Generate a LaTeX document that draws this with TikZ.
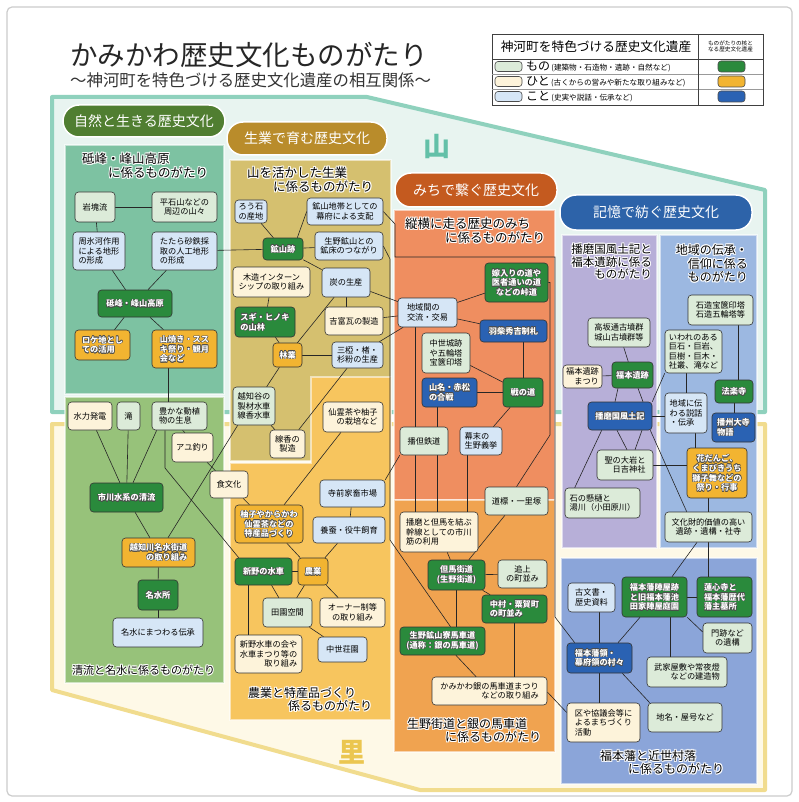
\documentclass[tikz,border=0pt]{standalone}
\usepackage{fontspec}
\setmainfont{Noto Sans CJK JP}
\usetikzlibrary{calc}
\pgfdeclarelayer{bglayer}
\pgfdeclarelayer{edgelayer}
\pgfsetlayers{bglayer,edgelayer,main}

\definecolor{cMono}{HTML}{DCEBD9}
\definecolor{cHito}{HTML}{FDF3DA}
\definecolor{cKoto}{HTML}{D6E6F6}
\definecolor{cKG}{HTML}{2A8A3C}
\definecolor{cKO}{HTML}{F2B431}
\definecolor{cKB}{HTML}{2A62B3}
\definecolor{cYamaF}{HTML}{E8F4F0}
\definecolor{cYamaB}{HTML}{8FD1BD}
\definecolor{cSatoF}{HTML}{FEF9E7}
\definecolor{cSatoB}{HTML}{F1DC8E}
\definecolor{cTomine}{HTML}{7DC2A2}
\definecolor{cSeiryu}{HTML}{97C27A}
\definecolor{cSeigyo}{HTML}{D5C06F}
\definecolor{cNogyo}{HTML}{F7C55E}
\definecolor{cJuo}{HTML}{EF8E60}
\definecolor{cKaido}{HTML}{F0A350}
\definecolor{cHarima}{HTML}{B7AFD8}
\definecolor{cDensho}{HTML}{9CB8E1}
\definecolor{cFuku}{HTML}{8BA5D9}
\definecolor{cPa}{HTML}{507E31}
\definecolor{cPb}{HTML}{B98C2B}
\definecolor{cPc}{HTML}{C45A1F}
\definecolor{cPd}{HTML}{2D63A9}
\definecolor{cYamaT}{HTML}{63C0A8}
\definecolor{cSatoT}{HTML}{EBC650}

\newcommand\outl[3]{\leavevmode\rlap{\color{#1}%
 \rlap{\hspace*{#2}#3}\rlap{\hspace*{-#2}#3}\rlap{\raisebox{#2}{#3}}\rlap{\raisebox{-#2}{#3}}%
 \rlap{\hspace*{#2}\raisebox{#2}{#3}}\rlap{\hspace*{-#2}\raisebox{#2}{#3}}%
 \rlap{\hspace*{#2}\raisebox{-#2}{#3}}\rlap{\hspace*{-#2}\raisebox{-#2}{#3}}}#3}
\newcommand\hTxt[1]{\outl{white}{0.9pt}{#1}}
\newcommand\cT[1]{\outl{black!70}{0.45pt}{#1}}

\tikzset{
 nd/.style={draw=black!80, line width=0.6pt, rounded corners=3.5pt, align=center, inner sep=1pt, font=\fontsize{8.2}{9.6}\selectfont},
 sz/.style 2 args={minimum width=#1pt, minimum height=#2pt},
 mono/.style={nd, fill=cMono},
 hito/.style={nd, fill=cHito},
 koto/.style={nd, fill=cKoto},
 kg/.style={nd, fill=cKG, text=white, font=\bfseries\fontsize{8.2}{9.6}\selectfont},
 ko/.style={nd, fill=cKO, text=white, font=\bfseries\fontsize{8.2}{9.6}\selectfont},
 kb/.style={nd, fill=cKB, text=white, font=\bfseries\fontsize{8.2}{9.6}\selectfont},
 ln/.style={draw=black!85, line width=0.6pt},
 sub/.style={draw=white, draw opacity=0.55, line width=1.2pt},
 pill/.style={rounded corners=16pt, draw=white, line width=1.5pt, text=white, font=\fontsize{14}{14}\selectfont},
 rtitle/.style={align=left, inner sep=0pt, font=\fontsize{12.5}{13.5}\selectfont},
 sw/.style={draw=black!70, line width=0.6pt, rounded corners=3pt, minimum width=27pt, minimum height=10pt, inner sep=0pt},
}

\begin{document}
\begin{tikzpicture}[x=1pt,y=-1pt]
\useasboundingbox (0,0) rectangle (799,802);
\begin{pgfonlayer}{bglayer}
 \fill[white] (0,0) rectangle (799,802);
 \draw[black!20, line width=1.2pt, rounded corners=5pt] (7,7) rectangle (792,796);
 \filldraw[fill=cYamaF, draw=cYamaB, line width=4pt, line join=round] (52,97) -- (367,97) -- (765,190) -- (765,412) -- (52,412) -- cycle;
 \filldraw[fill=cSatoF, draw=cSatoB, line width=4pt, line join=round] (52,424) -- (765,424) -- (765,790) -- (420,790) -- (52,690) -- cycle;
 \filldraw[sub, fill=cTomine] (65,145) rectangle (224,394);
 \filldraw[sub, fill=cSeiryu] (65,397) rectangle (224,683);
 \filldraw[sub, fill=cSeigyo] (230,160) rectangle (391,461);
 \filldraw[sub, fill=cNogyo] (311,377) -- (391,377) -- (391,720) -- (230,720) -- (230,463) -- (311,463) -- cycle;
 \filldraw[sub, fill=cJuo] (394,210) rectangle (555,500);
 \filldraw[sub, fill=cKaido] (394,500) rectangle (555,752);
 \filldraw[sub, fill=cHarima] (562,235) rectangle (657,548);
 \filldraw[sub, fill=cDensho] (660,235) rectangle (757,548);
 \filldraw[sub, fill=cFuku] (561,558) rectangle (757,784);
\end{pgfonlayer}

% titles
\node[anchor=west, inner sep=0pt, font=\fontsize{27.5}{30}\selectfont, text=black!85] (title) at (70,55) {かみかわ歴史文化ものがたり};
\node[anchor=west, inner sep=0pt, font=\fontsize{16.4}{18}\selectfont, text=black!80] (subtitle) at (70,80) {～神河町を特色づける歴史文化遺産の相互関係～};

% legend
\draw[black!75, line width=0.7pt] (492,34) rectangle (763,105);
\draw[black!75, line width=0.7pt] (492,59) -- (763,59);
\draw[black!40, line width=0.5pt] (492,74) -- (763,74) (492,89) -- (763,89);
\draw[black!75, line width=0.7pt] (698,34) -- (698,105);
\node[inner sep=0pt, font=\fontsize{12.7}{13}\selectfont] (lgh) at (596,46.5) {神河町を特色づける歴史文化遺産};
\node[inner sep=0pt, align=center, font=\fontsize{5.6}{6.6}\selectfont] (lgh2) at (730.5,46.5) {ものがたりの核と\\なる歴史文化遺産};
\node[sw, fill=cMono] (s1) at (508.5,66.5) {};
\node[sw, fill=cHito] (s2) at (508.5,81.5) {};
\node[sw, fill=cKoto] (s3) at (508.5,96.5) {};
\node[anchor=west, inner sep=0pt] (l1) at (526,66.5) {{\fontsize{12}{12}\selectfont もの}{\fontsize{7.6}{8}\selectfont\,(建築物・石造物・遺跡・自然など)}};
\node[anchor=west, inner sep=0pt] (l2) at (526,81.5) {{\fontsize{12}{12}\selectfont ひと}{\fontsize{7.6}{8}\selectfont\,(古くからの営みや新たな取り組みなど)}};
\node[anchor=west, inner sep=0pt] (l3) at (526,96.5) {{\fontsize{12}{12}\selectfont こと}{\fontsize{7.6}{8}\selectfont\,(史実や説話・伝承など)}};
\node[sw, fill=cKG, minimum height=11pt] (c1) at (731.5,66.5) {};
\node[sw, fill=cKO, minimum height=11pt] (c2) at (731.5,81.5) {};
\node[sw, fill=cKB, minimum height=11pt] (c3) at (731.5,96.5) {};

% big labels
\node[font=\bfseries\fontsize{27}{27}\selectfont, text=cYamaT] (yama) at (437,147) {山};
\node[font=\bfseries\fontsize{27}{27}\selectfont, text=cSatoT] (sato) at (352,752) {里};

% pills
\node[pill, fill=cPa, minimum width=162pt, minimum height=32pt] (p1) at (144,121) {自然と生きる歴史文化};
\node[pill, fill=cPb, minimum width=160pt, minimum height=33pt] (p2) at (307,138.5) {生業で育む歴史文化};
\node[pill, fill=cPc, minimum width=162pt, minimum height=34pt] (p3) at (476,190) {みちで繋ぐ歴史文化};
\node[pill, fill=cPd, minimum width=192pt, minimum height=35pt] (p4) at (656,212.5) {記憶で紡ぐ歴史文化};

% region titles
\node[rtitle, anchor=north west] (t1) at (82,152) {\hTxt{砥峰・峰山高原}\\\hspace*{26pt}\hTxt{に係るものがたり}};
\node[rtitle, anchor=north west] (t2) at (247,166) {\hTxt{山を活かした生業}\\\hspace*{26pt}\hTxt{に係るものがたり}};
\node[rtitle, anchor=north west] (t3) at (405,217) {\hTxt{縦横に走る歴史のみち}\\\hspace*{40pt}\hTxt{に係るものがたり}};
\node[rtitle, anchor=north east, align=right, font=\fontsize{11.5}{12.5}\selectfont] (t4) at (652,243) {\hTxt{播磨国風土記と}\\\hTxt{福本遺跡に係る}\\\hTxt{ものがたり}};
\node[rtitle, anchor=north east, align=right, font=\fontsize{12}{12.5}\selectfont] (t5) at (748,243) {\hTxt{地域の伝承・}\\\hTxt{信仰に係る}\hspace*{6pt}\\\hTxt{ものがたり}};
\node[rtitle, font=\fontsize{11}{12}\selectfont] (t6) at (143.5,670) {\hTxt{清流と名水に係るものがたり}};
\node[rtitle, anchor=north west, font=\fontsize{12}{13}\selectfont] (t7) at (248,686) {\hTxt{農業と特産品づくり}\\\hspace*{40pt}\hTxt{係るものがたり}};
\node[rtitle, anchor=north west, font=\fontsize{12}{13}\selectfont] (t8) at (407,717) {\hTxt{生野街道と銀の馬車道}\\\hspace*{38pt}\hTxt{に係るものがたり}};
\node[rtitle, anchor=north west, font=\fontsize{12}{13}\selectfont] (t9) at (600,749) {\hTxt{福本藩と近世村落}\\\hspace*{28pt}\hTxt{に係るものがたり}};

% ---- nodes: 砥峰
\node[mono,sz={40}{30}] (gankai) at (95,207) {岩塊流};
\node[mono,sz={65}{30}] (hiraishi) at (184.5,207) {平石山などの\\周辺の山々};
\node[koto,sz={52}{38},align=left] (shuhyoga) at (99,251) {周氷河作用\\による地形\\の形成};
\node[koto,sz={65}{38},align=left] (tatara) at (184.5,251) {たたら砂鉄採\\取の人工地形\\の形成};
\node[kg,sz={74}{27}] (tomine) at (135,303.5) {\cT{砥峰・峰山高原}};
\node[ko,sz={55}{30},align=left] (roke) at (102.5,345) {\cT{ロケ地とし}\\\cT{ての活用}};
\node[ko,sz={65}{38},align=left] (yamayaki) at (184.5,349) {\cT{山焼き・スス}\\\cT{キ祭り・観月}\\\cT{会など}};
% 清流
\node[hito,sz={44}{28}] (suiryoku) at (90,416) {水力発電};
\node[mono,sz={23}{28}] (taki) at (128.5,416) {滝};
\node[mono,sz={55}{28},align=left] (yutaka) at (179.5,416) {豊かな動植\\物の生息};
\node[hito,sz={41}{29}] (ayu) at (192.5,447.5) {アユ釣り};
\node[hito,sz={38}{27}] (shoku) at (229,484.5) {食文化};
\node[kg,sz={73}{29}] (ichikawa) at (126.5,497.5) {\cT{市川水系の清流}};
\node[ko,sz={73}{29},align=right] (ochigawa) at (158.5,552.5) {\cT{越知川名水街道}\\\cT{の取り組み}};
\node[kg,sz={40}{30}] (meisui) at (158,595) {\cT{名水所}};
\node[koto,sz={90}{29}] (densho) at (158,632.5) {名水にまつわる伝承};
% 生業
\node[koto,sz={32}{23}] (rouseki) at (251,211.5) {ろう石\\の産地};
\node[koto,sz={76}{27}] (kozantai) at (345,211.5) {鉱山地帯としての\\幕府による支配};
\node[kg,sz={40}{22}] (kozan) at (283,249) {\cT{鉱山跡}};
\node[koto,sz={68}{28}] (ikuno) at (349,246) {生野鉱山との\\鉱床のつながり};
\node[hito,sz={77}{30}] (mokuzo) at (271.5,282) {木造インターン\\シップの取り組み};
\node[koto,sz={48}{29}] (sumi) at (346,282.5) {炭の生産};
\node[kg,sz={60}{30},align=left] (sugi) at (265,322) {\cT{スギ・ヒノキ}\\\cT{の山林}};
\node[hito,sz={58}{28}] (yoshitomi) at (354,321) {吉富瓦の製造};
\node[ko,sz={29}{24}] (ringyo) at (287.5,355) {\cT{林業}};
\node[koto,sz={51}{26}] (mitsumata) at (357.5,355) {三椏・楮・\\杉粉の生産};
\node[mono,sz={42}{38}] (ochidani) at (254,406) {越知谷の\\製材水車\\線香水車};
\node[hito,sz={35}{28}] (senko) at (287.5,444) {線香の\\製造};
% 農業
\node[hito,sz={60}{30},align=right] (senrei) at (353,417) {仙霊茶や柚子\\の栽培など};
\node[koto,sz={65}{27}] (teramae) at (352.5,493.5) {寺前家畜市場};
\node[ko,sz={68}{38}] (yuzu) at (269,524) {\cT{柚子やからかわ}\\\cT{仙霊茶などの}\\\cT{特産品づくり}};
\node[koto,sz={72}{26}] (yosan) at (349,530) {養蚕・役牛飼育};
\node[kg,sz={57}{27}] (niino) at (263.5,571.5) {\cT{新野の水車}};
\node[ko,sz={30}{27}] (nogyo) at (313,571.5) {\cT{農業}};
\node[mono,sz={49}{29}] (denen) at (287.5,612.5) {田園空間};
\node[hito,sz={65}{29}] (owner) at (352.5,612.5) {オーナー制等\\の取り組み};
\node[koto,sz={49}{25}] (chusei) at (342.5,649.5) {中世荘園};
\node[hito,sz={67}{38},align=right] (niinokai) at (268.5,654) {新野水車の会や\\水車まつり等の\\取り組み};
% みち
\node[kg,sz={63}{39}] (toge) at (516.5,282.5) {\cT{嫁入りの道や}\\\cT{医者通いの道}\\\cT{などの峠道}};
\node[koto,sz={59}{29},align=left] (chiiki) at (427.5,312.5) {地域間の\\交流・交易};
\node[kb,sz={67}{22}] (hashiba) at (513.5,331) {\cT{羽柴秀吉制札}};
\node[mono,sz={48}{40}] (chusejo) at (446,353) {中世城跡\\や五輪塔\\宝篋印塔};
\node[kb,sz={55}{29},align=left] (yamana) at (449.5,392.5) {\cT{山名・赤松}\\\cT{の合戦}};
\node[kg,sz={40}{29}] (ikusa) at (523,392.5) {\cT{戦の道}};
\node[mono,sz={48}{28}] (bantan) at (424,441) {播但鉄道};
\node[koto,sz={42}{28},align=left] (bakumatsu) at (481,441) {幕末の\\生野義挙};
\node[mono,sz={63}{28}] (dohyo) at (516.5,501) {道標・一里塚};
\node[hito,sz={78}{40},align=left] (harima) at (439,532) {播磨と但馬を結ぶ\\幹線としての市川\\筋の利用};
\node[kg,sz={57}{30}] (tajima) at (456.5,575) {\cT{但馬街道}\\\cT{(生野街道)}};
\node[mono,sz={49}{28}] (oikami) at (522.5,574) {追上\\の町並み};
\node[kg,sz={65}{28},align=left] (nakamura) at (514.5,609) {\cT{中村・粟賀町}\\\cT{の町並み}};
\node[kg,sz={85}{28}] (bashado) at (442.5,641) {\cT{生野鉱山寮馬車道}\\\cT{(通称：銀の馬車道)}};
\node[hito,sz={115}{28},align=right] (matsuri) at (489.5,691) {かみかわ銀の馬車道まつり\\などの取り組み};
% 記憶
\node[mono,sz={62}{29}] (kosaka) at (619,332.5) {高坂通古墳群\\城山古墳群等};
\node[hito,sz={39}{23},align=right] (fukumatsu) at (582.5,376.5) {福本遺跡\\まつり};
\node[kg,sz={41}{26}] (fukuiseki) at (632.5,375) {\cT{福本遺跡}};
\node[kb,sz={64}{28}] (fudoki) at (620,416) {\cT{播磨国風土記}};
\node[mono,sz={65}{30}] (sekizo) at (720.5,310) {石造宝篋印塔\\石造五輪塔等};
\node[mono,sz={57}{43},align=left] (iware) at (693.5,351.5) {いわれのある\\巨石・巨岩、\\巨樹・巨木・\\社叢、滝など};
\node[kg,sz={38}{23}] (horaku) at (734,391.5) {\cT{法楽寺}};
\node[koto,sz={42}{40},align=left] (setsuwa) at (686,413) {地域に伝\\わる説話\\・伝承};
\node[kb,sz={43}{29},align=left] (banshu) at (733.5,427.5) {\cT{播州大寺}\\\cT{物語}};
\node[mono,sz={56}{30},align=right] (hijiri) at (625,465) {聖の大岩と\\日吉神社};
\node[ko,sz={60}{50}] (hana) at (717,473) {\cT{花だんご、}\\\cT{くまびきうち}\\\cT{獅子舞などの}\\\cT{祭り・行事}};
\node[mono,sz={75}{30},align=left] (ishi) at (602.5,503) {石の懸樋と\\湯川（小田原川）};
\node[mono,sz={87}{30}] (bunka) at (708.5,527) {文化財的価値の高い\\遺跡・遺構・社寺};
% 福本藩
\node[koto,sz={47}{29}] (komonjo) at (591.5,597.5) {古文書・\\歴史資料};
\node[kg,sz={65}{40}] (jinya) at (654.5,597) {\cT{福本藩陣屋跡}\\\cT{と旧福本藩池}\\\cT{田家陣屋庭園}};
\node[kg,sz={55}{40},align=left] (tokushin) at (724.5,597) {\cT{蓮心寺と}\\\cT{福本藩歴代}\\\cT{藩主墓所}};
\node[mono,sz={49}{30}] (monseki) at (727.5,638) {門跡など\\の遺構};
\node[kb,sz={65}{30},align=left] (ryo) at (599.5,658) {\cT{福本藩領・}\\\cT{幕府領の村々}};
\node[mono,sz={80}{30},align=right] (buke) at (687,672) {武家屋敷や常夜燈\\などの建造物};
\node[hito,sz={73}{39},align=left] (ku) at (603.5,722.5) {区や協議会等に\\よるまちづくり\\活動};
\node[mono,sz={74}{29}] (chimei) at (685,717.5) {地名・屋号など};

% bend points
\coordinate (yB) at (165,468);
\coordinate (kA) at (395,224);
\coordinate (kB) at (395,257);
\coordinate (kC) at (555,257);
\coordinate (kD) at (555,617);
\coordinate (iA) at (390,259);
\coordinate (iB) at (390,540);
\coordinate (tA) at (550,435);
\coordinate (sh) at ($(setsuwa.south)+(9,0)$);
\coordinate (hs) at ($(hana.south)+(-9,0)$);
\coordinate (tk) at ($(tokushin.north)+(-16.5,0)$);

\begin{pgfonlayer}{edgelayer}
\draw[ln] (gankai) -- (hiraishi);
\draw[ln] (gankai) -- (shuhyoga);
\draw[ln] (shuhyoga) -- (tomine);
\draw[ln] (tatara) -- (tomine);
\draw[ln] (tomine) -- (roke);
\draw[ln] (tomine) -- (yamayaki);
\draw[ln] (tatara) -- (kozan);
\draw[ln] ([xshift=-16.5pt]yamayaki.south) -- ([xshift=-11.5pt]yutaka.north);
\draw[ln] (suiryoku) -- (ichikawa);
\draw[ln] (taki) -- (ichikawa);
\draw[ln] ([xshift=5pt]yutaka.south west) -- ([xshift=6.5pt]ichikawa.north);
\draw[ln] ([xshift=3pt]yutaka.south) -- ([xshift=-7.5pt]ayu.north);
\draw[ln] (ayu) -- (shoku);
\draw[ln] (yutaka.south -| yB) -- (yB) -- ([xshift=4pt]niino.north west);
\draw[ln] (ichikawa) -- (ochigawa);
\draw[ln] ([xshift=9.5pt]ochigawa.north) -- ([xshift=5pt]ochidani.south west);
\draw[ln] (ochigawa) -- (meisui);
\draw[ln] (meisui) -- (densho);
\draw[ln] (shoku) -- (yuzu);
% 生業
\draw[ln] (rouseki) -- (kozan);
\draw[ln] ([xshift=-6pt]kozan.north east) -- (kozantai.west);
\draw[ln] (kozan) -- (ikuno);
\draw[ln] (kozan) -- (sumi);
\draw[ln] (kozantai.east) -- (kA) -- (kB) -- (kC) -- (kD) -- ([xshift=8pt]ryo.north west);
\draw[ln] (ikuno.east) -- (iA) -- (iB) -- ([xshift=8pt]bashado.north);
\draw[ln] (sumi.south) -- (sumi.south |- yoshitomi.north);
\draw[ln] (sumi) -- (chiiki);
\draw[ln] (yoshitomi) -- (chiiki);
\draw[ln] (mitsumata) -- (chiiki);
\draw[ln] (ringyo) -- (sumi);
\draw[ln] (ringyo) -- (mitsumata);
\draw[ln] (sugi) -- (ringyo);
\draw[ln] (mokuzo) -- (sugi);
\draw[ln] (ringyo) -- (ochidani);
\draw[ln] (ochidani) -- (senko);
\draw[ln] (mitsumata) -- (senko);
% 農業
\draw[ln] (senrei) -- (yuzu);
\draw[ln] (teramae) -- (yosan);
\draw[ln] (bantan.south west) -- (teramae.north east);
\draw[ln] (yuzu) -- (nogyo);
\draw[ln] (yosan) -- (nogyo);
\draw[ln] (niino) -- (nogyo);
\draw[ln] (niino) -- (denen);
\draw[ln] (nogyo) -- (denen);
\draw[ln] (nogyo) -- (owner);
\draw[ln] (denen) -- (chusei);
\draw[ln] ([xshift=-15.5pt]niino.south) -- ([xshift=-20.5pt]niinokai.north);
% みち
\draw[ln] (chiiki) -- (toge);
\draw[ln] (chiiki) -- (hashiba);
\draw[ln] (chusejo) -- (ikusa);
\draw[ln] (ikusa.north |- hashiba.south) -- (ikusa.north);
\draw[ln] (yamana) -- (ikusa);
\draw[ln] ([xshift=-12.5pt]chiiki.south) -- ([xshift=-9pt]bantan.north);
\draw[ln] ([xshift=-9pt]bantan.south) -- ([xshift=-24pt]harima.north);
\draw[ln] ([xshift=-12.5pt]yamana.south) -- ([xshift=-2pt]harima.north);
\draw[ln] (ikusa) -- (bakumatsu);
\draw[ln] ([xshift=-14pt]bakumatsu.south) -- ([xshift=28pt]harima.north);
\draw[ln] (toge.east) -- (toge.east -| tA) -- (tA) -- (dohyo.north);
\draw[ln] (dohyo) -- (tajima);
\draw[ln] (harima) -- (tajima);
\draw[ln] (tajima) -- (oikami);
\draw[ln] (tajima) -- (nakamura);
\draw[ln] (tajima.south) -- (tajima.south |- bashado.north);
\draw[ln] (bashado) -- (matsuri);
\draw[ln] (nakamura.south) -- (nakamura.south |- matsuri.north);
\draw[ln] ([yshift=-1pt]matsuri.east) -- ([yshift=10pt]ku.west);
% 記憶
\draw[ln] (kosaka) -- (fukuiseki);
\draw[ln] (fukumatsu) -- (fukuiseki);
\draw[ln] ([xshift=-14.5pt]fukuiseki.south) -- ([xshift=-5pt]fudoki.north);
\draw[ln] ([xshift=5.5pt]fukuiseki.south) -- ([xshift=23pt]fudoki.north);
\draw[ln] ([xshift=14pt]fudoki.south west) -- ([xshift=10pt]ishi.north west);
\draw[ln] ([xshift=-3pt]fudoki.south) -- ([xshift=2pt]hijiri.north);
\draw[ln] ([xshift=22pt]fudoki.south) -- ([xshift=10pt]hijiri.north);
\draw[ln] ([xshift=-2pt]fudoki.south east) -- ([xshift=22pt]bunka.north west);
\draw[ln] (fudoki.north east) -- (iware.south west);
\draw[ln] (fudoki.east) -- (fudoki.east -| setsuwa.west);
\draw[ln] (iware.south -| setsuwa.north) -- (setsuwa.north);
\draw[ln] (sh) -- (sh |- hana.north);
\draw[ln] (hijiri.east) -- (hijiri.east -| hana.west);
\draw[ln] ([xshift=17.5pt]sekizo.south) -- ([xshift=4pt]horaku.north);
\draw[ln] (horaku.south) -- (horaku.south |- banshu.north);
\draw[ln] (hs) -- (hs |- bunka.north);
\draw[ln] ([xshift=-11.5pt]bunka.south) -- ([xshift=17.5pt]jinya.north);
\draw[ln] (tk |- bunka.south) -- (tk);
\draw[ln] (jinya) -- (tokushin);
\draw[ln] (jinya.south east) -- ([yshift=6pt]monseki.west);
\draw[ln] ([xshift=15.5pt]jinya.south) -- ([xshift=-17pt]buke.north);
\draw[ln] ([xshift=-14.5pt]jinya.south) -- ([xshift=18.5pt]ryo.north);
\draw[ln] ([xshift=8pt]komonjo.south) -- (ryo.north);
\draw[ln] ([xshift=-10pt]ryo.south east) -- ([xshift=2pt]chimei.north west);
\draw[ln] (ryo.south) -- (ryo.south |- ku.north);
\end{pgfonlayer}
\end{tikzpicture}
\end{document}
